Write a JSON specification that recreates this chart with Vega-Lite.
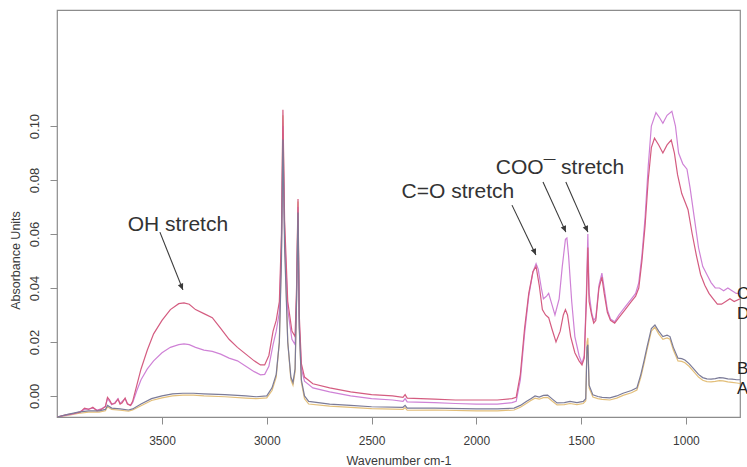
{
"$schema": "https://vega.github.io/schema/vega-lite/v6.json",
"width": 683, "height": 407,
"autosize": {"type": "none"},
"padding": {"left": 57, "top": 10, "right": 7, "bottom": 50},
"background": "white",
"config": {
  "font": "Liberation Sans",
  "view": {"stroke": "#8c8c8c", "strokeWidth": 1.2},
  "axis": {"domain": false, "grid": false, "tickColor": "#8c8c8c", "tickSize": 7, "labelColor": "#3a3a3a", "titleColor": "#3a3a3a", "labelFont": "Liberation Sans", "titleFont": "Liberation Sans", "titleFontWeight": "normal"}
},
"datasets": {
"spec": [
{"s":"A","w":4000,"a":-0.0078},{"s":"A","w":3950,"a":-0.0072},{"s":"A","w":3900,"a":-0.0065},{"s":"A","w":3850,"a":-0.006},{"s":"A","w":3800,"a":-0.006},{"s":"A","w":3770,"a":-0.0055},{"s":"A","w":3760,"a":-0.004},{"s":"A","w":3740,"a":-0.005},{"s":"A","w":3700,"a":-0.0053},{"s":"A","w":3660,"a":-0.0056},{"s":"A","w":3640,"a":-0.0052},{"s":"A","w":3600,"a":-0.0036},{"s":"A","w":3550,"a":-0.0017},{"s":"A","w":3500,"a":-0.0007},{"s":"A","w":3450,"a":0.0},{"s":"A","w":3400,"a":0.0003},{"s":"A","w":3350,"a":0.0003},{"s":"A","w":3300,"a":0.0},{"s":"A","w":3200,"a":-0.0003},{"s":"A","w":3100,"a":-0.0008},{"s":"A","w":3050,"a":-0.001},{"s":"A","w":3000,"a":-0.0007},{"s":"A","w":2975,"a":0.002},{"s":"A","w":2955,"a":0.007},{"s":"A","w":2940,"a":0.02},{"s":"A","w":2930,"a":0.055},{"s":"A","w":2923,"a":0.104},{"s":"A","w":2915,"a":0.06},{"s":"A","w":2900,"a":0.02},{"s":"A","w":2885,"a":0.006},{"s":"A","w":2875,"a":0.004},{"s":"A","w":2865,"a":0.009},{"s":"A","w":2858,"a":0.036},{"s":"A","w":2851,"a":0.072},{"s":"A","w":2845,"a":0.026},{"s":"A","w":2835,"a":0.005},{"s":"A","w":2820,"a":-0.001},{"s":"A","w":2800,"a":-0.003},{"s":"A","w":2700,"a":-0.0038},{"s":"A","w":2600,"a":-0.0042},{"s":"A","w":2500,"a":-0.0047},{"s":"A","w":2350,"a":-0.005},{"s":"A","w":2340,"a":-0.0043},{"s":"A","w":2330,"a":-0.0053},{"s":"A","w":2200,"a":-0.0052},{"s":"A","w":2000,"a":-0.0055},{"s":"A","w":1900,"a":-0.0055},{"s":"A","w":1820,"a":-0.0052},{"s":"A","w":1790,"a":-0.0042},{"s":"A","w":1760,"a":-0.0027},{"s":"A","w":1740,"a":-0.0017},{"s":"A","w":1720,"a":-0.0008},{"s":"A","w":1700,"a":-0.0012},{"s":"A","w":1680,"a":-0.0006},{"s":"A","w":1660,"a":-0.0005},{"s":"A","w":1640,"a":-0.0018},{"s":"A","w":1615,"a":-0.0033},{"s":"A","w":1580,"a":-0.0032},{"s":"A","w":1553,"a":-0.0028},{"s":"A","w":1520,"a":-0.0032},{"s":"A","w":1490,"a":-0.0028},{"s":"A","w":1478,"a":-0.0018},{"s":"A","w":1472,"a":0.02},{"s":"A","w":1468,"a":0.0215},{"s":"A","w":1462,"a":0.003},{"s":"A","w":1444,"a":-0.0004},{"s":"A","w":1420,"a":-0.001},{"s":"A","w":1400,"a":-0.0013},{"s":"A","w":1363,"a":-0.0015},{"s":"A","w":1330,"a":-0.0008},{"s":"A","w":1300,"a":0.0002},{"s":"A","w":1260,"a":0.0012},{"s":"A","w":1234,"a":0.0022},{"s":"A","w":1215,"a":0.007},{"s":"A","w":1200,"a":0.012},{"s":"A","w":1186,"a":0.017},{"s":"A","w":1165,"a":0.024},{"s":"A","w":1148,"a":0.0255},{"s":"A","w":1130,"a":0.023},{"s":"A","w":1110,"a":0.021},{"s":"A","w":1090,"a":0.0215},{"s":"A","w":1076,"a":0.021},{"s":"A","w":1060,"a":0.017},{"s":"A","w":1038,"a":0.013},{"s":"A","w":1020,"a":0.0128},{"s":"A","w":1005,"a":0.0123},{"s":"A","w":985,"a":0.011},{"s":"A","w":967,"a":0.0094},{"s":"A","w":940,"a":0.007},{"s":"A","w":920,"a":0.0058},{"s":"A","w":900,"a":0.0053},{"s":"A","w":880,"a":0.0052},{"s":"A","w":860,"a":0.0054},{"s":"A","w":840,"a":0.0057},{"s":"A","w":823,"a":0.0056},{"s":"A","w":800,"a":0.0052},{"s":"A","w":780,"a":0.005},{"s":"A","w":757,"a":0.0048},{"s":"A","w":742,"a":0.0046},
{"s":"C","w":4000,"a":-0.0078},{"s":"C","w":3960,"a":-0.0072},{"s":"C","w":3920,"a":-0.0066},{"s":"C","w":3890,"a":-0.0058},{"s":"C","w":3870,"a":-0.005},{"s":"C","w":3850,"a":-0.0048},{"s":"C","w":3830,"a":-0.0045},{"s":"C","w":3810,"a":-0.0052},{"s":"C","w":3790,"a":-0.0048},{"s":"C","w":3770,"a":-0.0038},{"s":"C","w":3760,"a":-0.001},{"s":"C","w":3750,"a":-0.002},{"s":"C","w":3740,"a":-0.0032},{"s":"C","w":3725,"a":-0.0025},{"s":"C","w":3710,"a":-0.001},{"s":"C","w":3700,"a":-0.0028},{"s":"C","w":3690,"a":-0.002},{"s":"C","w":3676,"a":-0.001},{"s":"C","w":3665,"a":-0.0028},{"s":"C","w":3650,"a":-0.0035},{"s":"C","w":3640,"a":-0.0025},{"s":"C","w":3620,"a":0.002},{"s":"C","w":3600,"a":0.006},{"s":"C","w":3570,"a":0.01},{"s":"C","w":3540,"a":0.013},{"s":"C","w":3500,"a":0.016},{"s":"C","w":3460,"a":0.018},{"s":"C","w":3420,"a":0.019},{"s":"C","w":3395,"a":0.0193},{"s":"C","w":3370,"a":0.019},{"s":"C","w":3340,"a":0.018},{"s":"C","w":3300,"a":0.017},{"s":"C","w":3260,"a":0.0165},{"s":"C","w":3220,"a":0.0155},{"s":"C","w":3180,"a":0.014},{"s":"C","w":3140,"a":0.013},{"s":"C","w":3100,"a":0.011},{"s":"C","w":3060,"a":0.009},{"s":"C","w":3030,"a":0.0078},{"s":"C","w":3010,"a":0.008},{"s":"C","w":2990,"a":0.011},{"s":"C","w":2970,"a":0.019},{"s":"C","w":2955,"a":0.024},{"s":"C","w":2940,"a":0.031},{"s":"C","w":2930,"a":0.055},{"s":"C","w":2923,"a":0.1},{"s":"C","w":2915,"a":0.06},{"s":"C","w":2900,"a":0.032},{"s":"C","w":2880,"a":0.021},{"s":"C","w":2865,"a":0.019},{"s":"C","w":2858,"a":0.036},{"s":"C","w":2851,"a":0.07},{"s":"C","w":2845,"a":0.027},{"s":"C","w":2835,"a":0.01},{"s":"C","w":2820,"a":0.0055},{"s":"C","w":2780,"a":0.003},{"s":"C","w":2700,"a":0.0015},{"s":"C","w":2600,"a":0.0},{"s":"C","w":2500,"a":-0.001},{"s":"C","w":2400,"a":-0.0015},{"s":"C","w":2350,"a":-0.002},{"s":"C","w":2340,"a":-0.001},{"s":"C","w":2330,"a":-0.0022},{"s":"C","w":2200,"a":-0.0025},{"s":"C","w":2100,"a":-0.0028},{"s":"C","w":2000,"a":-0.003},{"s":"C","w":1900,"a":-0.003},{"s":"C","w":1830,"a":-0.0025},{"s":"C","w":1810,"a":-0.002},{"s":"C","w":1790,"a":0.006},{"s":"C","w":1770,"a":0.023},{"s":"C","w":1750,"a":0.037},{"s":"C","w":1730,"a":0.046},{"s":"C","w":1715,"a":0.049},{"s":"C","w":1705,"a":0.047},{"s":"C","w":1690,"a":0.04},{"s":"C","w":1680,"a":0.036},{"s":"C","w":1665,"a":0.037},{"s":"C","w":1655,"a":0.038},{"s":"C","w":1640,"a":0.034},{"s":"C","w":1625,"a":0.03},{"s":"C","w":1605,"a":0.036},{"s":"C","w":1590,"a":0.048},{"s":"C","w":1575,"a":0.058},{"s":"C","w":1568,"a":0.0585},{"s":"C","w":1560,"a":0.052},{"s":"C","w":1545,"a":0.035},{"s":"C","w":1530,"a":0.022},{"s":"C","w":1510,"a":0.015},{"s":"C","w":1496,"a":0.012},{"s":"C","w":1485,"a":0.015},{"s":"C","w":1475,"a":0.038},{"s":"C","w":1468,"a":0.06},{"s":"C","w":1462,"a":0.038},{"s":"C","w":1450,"a":0.031},{"s":"C","w":1440,"a":0.028},{"s":"C","w":1430,"a":0.029},{"s":"C","w":1415,"a":0.041},{"s":"C","w":1401,"a":0.0455},{"s":"C","w":1390,"a":0.04},{"s":"C","w":1375,"a":0.032},{"s":"C","w":1360,"a":0.0285},{"s":"C","w":1340,"a":0.0275},{"s":"C","w":1320,"a":0.03},{"s":"C","w":1290,"a":0.033},{"s":"C","w":1260,"a":0.036},{"s":"C","w":1240,"a":0.038},{"s":"C","w":1225,"a":0.042},{"s":"C","w":1210,"a":0.052},{"s":"C","w":1195,"a":0.066},{"s":"C","w":1180,"a":0.085},{"s":"C","w":1165,"a":0.1},{"s":"C","w":1143,"a":0.105},{"s":"C","w":1125,"a":0.103},{"s":"C","w":1110,"a":0.101},{"s":"C","w":1090,"a":0.104},{"s":"C","w":1067,"a":0.1055},{"s":"C","w":1050,"a":0.1},{"s":"C","w":1035,"a":0.09},{"s":"C","w":1015,"a":0.086},{"s":"C","w":995,"a":0.084},{"s":"C","w":980,"a":0.077},{"s":"C","w":960,"a":0.066},{"s":"C","w":940,"a":0.055},{"s":"C","w":920,"a":0.048},{"s":"C","w":900,"a":0.045},{"s":"C","w":880,"a":0.042},{"s":"C","w":860,"a":0.04},{"s":"C","w":840,"a":0.04},{"s":"C","w":820,"a":0.039},{"s":"C","w":800,"a":0.04},{"s":"C","w":780,"a":0.039},{"s":"C","w":760,"a":0.038},{"s":"C","w":742,"a":0.038},
{"s":"D","w":4000,"a":-0.0078},{"s":"D","w":3960,"a":-0.007},{"s":"D","w":3920,"a":-0.0065},{"s":"D","w":3890,"a":-0.006},{"s":"D","w":3870,"a":-0.0045},{"s":"D","w":3850,"a":-0.005},{"s":"D","w":3830,"a":-0.0042},{"s":"D","w":3810,"a":-0.0055},{"s":"D","w":3790,"a":-0.005},{"s":"D","w":3770,"a":-0.004},{"s":"D","w":3760,"a":-0.0005},{"s":"D","w":3750,"a":-0.0015},{"s":"D","w":3740,"a":-0.003},{"s":"D","w":3725,"a":-0.0028},{"s":"D","w":3710,"a":-0.0012},{"s":"D","w":3700,"a":-0.003},{"s":"D","w":3690,"a":-0.0025},{"s":"D","w":3676,"a":-0.0008},{"s":"D","w":3665,"a":-0.003},{"s":"D","w":3650,"a":-0.0035},{"s":"D","w":3640,"a":-0.002},{"s":"D","w":3620,"a":0.004},{"s":"D","w":3600,"a":0.01},{"s":"D","w":3570,"a":0.017},{"s":"D","w":3540,"a":0.023},{"s":"D","w":3500,"a":0.028},{"s":"D","w":3460,"a":0.032},{"s":"D","w":3420,"a":0.0342},{"s":"D","w":3395,"a":0.0345},{"s":"D","w":3370,"a":0.034},{"s":"D","w":3340,"a":0.032},{"s":"D","w":3300,"a":0.0305},{"s":"D","w":3260,"a":0.029},{"s":"D","w":3220,"a":0.025},{"s":"D","w":3180,"a":0.021},{"s":"D","w":3140,"a":0.018},{"s":"D","w":3100,"a":0.0155},{"s":"D","w":3060,"a":0.013},{"s":"D","w":3030,"a":0.0115},{"s":"D","w":3010,"a":0.0115},{"s":"D","w":2990,"a":0.015},{"s":"D","w":2970,"a":0.024},{"s":"D","w":2955,"a":0.028},{"s":"D","w":2940,"a":0.035},{"s":"D","w":2930,"a":0.06},{"s":"D","w":2923,"a":0.106},{"s":"D","w":2915,"a":0.065},{"s":"D","w":2900,"a":0.035},{"s":"D","w":2880,"a":0.024},{"s":"D","w":2865,"a":0.022},{"s":"D","w":2858,"a":0.04},{"s":"D","w":2851,"a":0.073},{"s":"D","w":2845,"a":0.03},{"s":"D","w":2835,"a":0.012},{"s":"D","w":2820,"a":0.007},{"s":"D","w":2780,"a":0.0045},{"s":"D","w":2700,"a":0.003},{"s":"D","w":2600,"a":0.0015},{"s":"D","w":2500,"a":0.0005},{"s":"D","w":2400,"a":0.0},{"s":"D","w":2350,"a":-0.0005},{"s":"D","w":2340,"a":0.0005},{"s":"D","w":2330,"a":-0.0008},{"s":"D","w":2200,"a":-0.0012},{"s":"D","w":2100,"a":-0.0015},{"s":"D","w":2000,"a":-0.0015},{"s":"D","w":1900,"a":-0.0015},{"s":"D","w":1830,"a":-0.001},{"s":"D","w":1810,"a":-0.0005},{"s":"D","w":1790,"a":0.008},{"s":"D","w":1770,"a":0.025},{"s":"D","w":1750,"a":0.038},{"s":"D","w":1730,"a":0.046},{"s":"D","w":1715,"a":0.048},{"s":"D","w":1700,"a":0.041},{"s":"D","w":1685,"a":0.032},{"s":"D","w":1670,"a":0.03},{"s":"D","w":1655,"a":0.029},{"s":"D","w":1640,"a":0.025},{"s":"D","w":1620,"a":0.02},{"s":"D","w":1600,"a":0.024},{"s":"D","w":1585,"a":0.03},{"s":"D","w":1575,"a":0.032},{"s":"D","w":1565,"a":0.03},{"s":"D","w":1550,"a":0.022},{"s":"D","w":1530,"a":0.016},{"s":"D","w":1510,"a":0.013},{"s":"D","w":1496,"a":0.0115},{"s":"D","w":1485,"a":0.014},{"s":"D","w":1475,"a":0.035},{"s":"D","w":1468,"a":0.055},{"s":"D","w":1462,"a":0.035},{"s":"D","w":1450,"a":0.03},{"s":"D","w":1440,"a":0.027},{"s":"D","w":1430,"a":0.028},{"s":"D","w":1415,"a":0.04},{"s":"D","w":1401,"a":0.044},{"s":"D","w":1390,"a":0.038},{"s":"D","w":1375,"a":0.031},{"s":"D","w":1360,"a":0.028},{"s":"D","w":1340,"a":0.027},{"s":"D","w":1320,"a":0.029},{"s":"D","w":1290,"a":0.032},{"s":"D","w":1260,"a":0.035},{"s":"D","w":1240,"a":0.037},{"s":"D","w":1225,"a":0.04},{"s":"D","w":1210,"a":0.05},{"s":"D","w":1195,"a":0.063},{"s":"D","w":1180,"a":0.08},{"s":"D","w":1165,"a":0.092},{"s":"D","w":1150,"a":0.0955},{"s":"D","w":1130,"a":0.093},{"s":"D","w":1110,"a":0.09},{"s":"D","w":1090,"a":0.093},{"s":"D","w":1070,"a":0.0948},{"s":"D","w":1055,"a":0.09},{"s":"D","w":1040,"a":0.082},{"s":"D","w":1020,"a":0.075},{"s":"D","w":1000,"a":0.071},{"s":"D","w":990,"a":0.069},{"s":"D","w":970,"a":0.06},{"s":"D","w":950,"a":0.052},{"s":"D","w":930,"a":0.045},{"s":"D","w":910,"a":0.041},{"s":"D","w":890,"a":0.038},{"s":"D","w":870,"a":0.036},{"s":"D","w":850,"a":0.034},{"s":"D","w":830,"a":0.034},{"s":"D","w":810,"a":0.035},{"s":"D","w":790,"a":0.036},{"s":"D","w":770,"a":0.035},{"s":"D","w":742,"a":0.036},
{"s":"B","w":4000,"a":-0.0078},{"s":"B","w":3950,"a":-0.0068},{"s":"B","w":3900,"a":-0.006},{"s":"B","w":3850,"a":-0.0055},{"s":"B","w":3800,"a":-0.0055},{"s":"B","w":3770,"a":-0.005},{"s":"B","w":3760,"a":-0.0035},{"s":"B","w":3740,"a":-0.0045},{"s":"B","w":3700,"a":-0.0048},{"s":"B","w":3660,"a":-0.0052},{"s":"B","w":3640,"a":-0.0048},{"s":"B","w":3600,"a":-0.003},{"s":"B","w":3550,"a":-0.001},{"s":"B","w":3500,"a":0.0},{"s":"B","w":3450,"a":0.0008},{"s":"B","w":3400,"a":0.001},{"s":"B","w":3350,"a":0.001},{"s":"B","w":3300,"a":0.0008},{"s":"B","w":3200,"a":0.0005},{"s":"B","w":3100,"a":0.0},{"s":"B","w":3050,"a":-0.0003},{"s":"B","w":3000,"a":0.0},{"s":"B","w":2975,"a":0.003},{"s":"B","w":2955,"a":0.008},{"s":"B","w":2940,"a":0.02},{"s":"B","w":2930,"a":0.05},{"s":"B","w":2923,"a":0.095},{"s":"B","w":2915,"a":0.055},{"s":"B","w":2900,"a":0.02},{"s":"B","w":2885,"a":0.007},{"s":"B","w":2875,"a":0.005},{"s":"B","w":2865,"a":0.01},{"s":"B","w":2858,"a":0.035},{"s":"B","w":2851,"a":0.068},{"s":"B","w":2845,"a":0.025},{"s":"B","w":2835,"a":0.006},{"s":"B","w":2820,"a":0.0},{"s":"B","w":2800,"a":-0.002},{"s":"B","w":2700,"a":-0.003},{"s":"B","w":2600,"a":-0.0035},{"s":"B","w":2500,"a":-0.004},{"s":"B","w":2350,"a":-0.0042},{"s":"B","w":2340,"a":-0.0035},{"s":"B","w":2330,"a":-0.0045},{"s":"B","w":2200,"a":-0.0045},{"s":"B","w":2000,"a":-0.0048},{"s":"B","w":1900,"a":-0.0048},{"s":"B","w":1820,"a":-0.0045},{"s":"B","w":1790,"a":-0.0035},{"s":"B","w":1760,"a":-0.002},{"s":"B","w":1740,"a":-0.001},{"s":"B","w":1720,"a":0.0},{"s":"B","w":1700,"a":-0.0004},{"s":"B","w":1680,"a":0.0002},{"s":"B","w":1660,"a":0.0003},{"s":"B","w":1640,"a":-0.001},{"s":"B","w":1615,"a":-0.0026},{"s":"B","w":1580,"a":-0.0025},{"s":"B","w":1553,"a":-0.002},{"s":"B","w":1520,"a":-0.0025},{"s":"B","w":1490,"a":-0.002},{"s":"B","w":1478,"a":-0.001},{"s":"B","w":1472,"a":0.018},{"s":"B","w":1468,"a":0.019},{"s":"B","w":1462,"a":0.004},{"s":"B","w":1444,"a":0.0004},{"s":"B","w":1420,"a":-0.0002},{"s":"B","w":1400,"a":-0.0005},{"s":"B","w":1363,"a":-0.0007},{"s":"B","w":1330,"a":0.0},{"s":"B","w":1300,"a":0.001},{"s":"B","w":1260,"a":0.002},{"s":"B","w":1234,"a":0.003},{"s":"B","w":1215,"a":0.008},{"s":"B","w":1200,"a":0.013},{"s":"B","w":1186,"a":0.018},{"s":"B","w":1165,"a":0.025},{"s":"B","w":1148,"a":0.0263},{"s":"B","w":1130,"a":0.024},{"s":"B","w":1110,"a":0.022},{"s":"B","w":1090,"a":0.0225},{"s":"B","w":1076,"a":0.022},{"s":"B","w":1060,"a":0.018},{"s":"B","w":1038,"a":0.014},{"s":"B","w":1020,"a":0.0138},{"s":"B","w":1005,"a":0.0133},{"s":"B","w":985,"a":0.012},{"s":"B","w":967,"a":0.0104},{"s":"B","w":940,"a":0.008},{"s":"B","w":920,"a":0.0068},{"s":"B","w":900,"a":0.0063},{"s":"B","w":880,"a":0.0062},{"s":"B","w":860,"a":0.0064},{"s":"B","w":840,"a":0.0068},{"s":"B","w":823,"a":0.0067},{"s":"B","w":800,"a":0.0063},{"s":"B","w":780,"a":0.0062},{"s":"B","w":757,"a":0.006},{"s":"B","w":742,"a":0.006}
],
"notes": [
{"t":"OH stretch","w":3424,"a":0.0633},
{"t":"C=O stretch","w":2088,"a":0.0756},
{"t":"COO¯ stretch","w":1601,"a":0.0844}
],
"arrows": [
{"w":3510,"a":0.0607,"w2":3400,"a2":0.0393},
{"w":1830,"a":0.0707,"w2":1716,"a2":0.0522},
{"w":1682,"a":0.0793,"w2":1573,"a2":0.0607},
{"w":1573,"a":0.0793,"w2":1468,"a2":0.0607}
],
"ends": [
{"l":"C","w":742,"a":0.0378},
{"l":"D","w":742,"a":0.0304},
{"l":"B","w":742,"a":0.0099},
{"l":"A","w":742,"a":0.0027}
]
},
"layer": [
{
 "data": {"name": "spec"},
 "mark": {"type": "line", "strokeWidth": 1.2, "clip": true},
 "encoding": {
  "x": {"field": "w", "type": "quantitative", "scale": {"domain": [742, 4001], "reverse": true, "nice": false, "zero": false},
        "axis": {"values": [1000, 1500, 2000, 2500, 3000, 3500], "format": "d", "title": "Wavenumber cm-1", "labelFontSize": 12, "titleFontSize": 12.5, "labelPadding": 11, "titleY": 43, "titleBaseline": "middle"}},
  "y": {"field": "a", "type": "quantitative", "scale": {"domain": [-0.0078, 0.143], "nice": false, "zero": false},
        "axis": {"values": [0, 0.02, 0.04, 0.06, 0.08, 0.1], "format": ".2f", "title": "Absorbance Units", "labelAngle": 270, "labelAlign": "center", "labelBaseline": "bottom", "labelPadding": 9, "labelFontSize": 13, "titleFontSize": 12.5, "titleAngle": 270, "titleX": -42, "titleY": 250, "titleAlign": "center", "titleBaseline": "middle"}},
  "color": {"field": "s", "type": "nominal", "scale": {"domain": ["A", "B", "C", "D"], "range": ["#e3bf7a", "#7b7b98", "#cf82d6", "#d45c80"]}, "legend": null}
 }
},
{
 "data": {"name": "arrows"},
 "mark": {"type": "rule", "color": "#3a3a3a", "strokeWidth": 1.1},
 "encoding": {
  "x": {"field": "w", "type": "quantitative", "scale": {"domain": [742, 4001], "reverse": true, "nice": false, "zero": false}},
  "x2": {"field": "w2"},
  "y": {"field": "a", "type": "quantitative", "scale": {"domain": [-0.0078, 0.143], "nice": false, "zero": false}},
  "y2": {"field": "a2"}
 }
},
{
 "data": {"name": "arrows"},
 "mark": {"type": "point", "shape": "M 0 0 L -0.45 -1 L 0.45 -1 Z", "filled": true, "color": "#3a3a3a", "size": 160, "angle": -23, "opacity": 1},
 "encoding": {
  "x": {"field": "w2", "type": "quantitative", "scale": {"domain": [742, 4001], "reverse": true, "nice": false, "zero": false}},
  "y": {"field": "a2", "type": "quantitative", "scale": {"domain": [-0.0078, 0.143], "nice": false, "zero": false}}
 }
},
{
 "data": {"name": "notes"},
 "mark": {"type": "text", "fontSize": 21, "color": "#333333", "align": "center", "baseline": "middle"},
 "encoding": {
  "x": {"field": "w", "type": "quantitative", "scale": {"domain": [742, 4001], "reverse": true, "nice": false, "zero": false}},
  "y": {"field": "a", "type": "quantitative", "scale": {"domain": [-0.0078, 0.143], "nice": false, "zero": false}},
  "text": {"field": "t"}
 }
},
{
 "data": {"name": "ends"},
 "mark": {"type": "text", "fontSize": 17, "color": "#222222", "align": "left", "baseline": "middle", "dx": -3},
 "encoding": {
  "x": {"field": "w", "type": "quantitative", "scale": {"domain": [742, 4001], "reverse": true, "nice": false, "zero": false}},
  "y": {"field": "a", "type": "quantitative", "scale": {"domain": [-0.0078, 0.143], "nice": false, "zero": false}},
  "text": {"field": "l"}
 }
}
]
}
